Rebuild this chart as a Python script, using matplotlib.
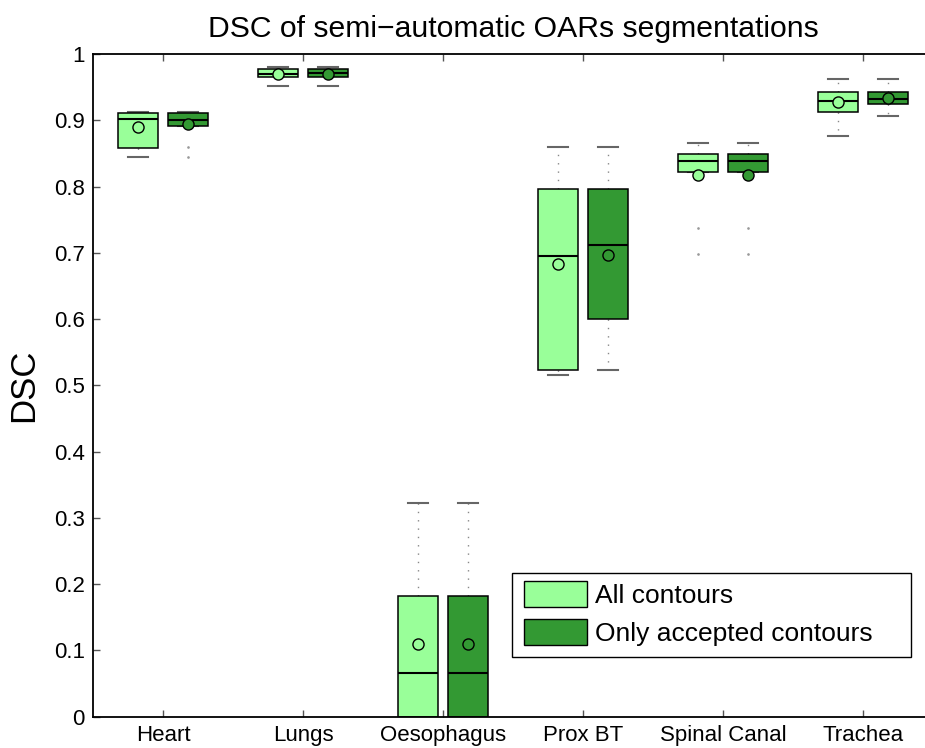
import numpy as np
import matplotlib
matplotlib.use('Agg')
import matplotlib.pyplot as plt
from matplotlib.patches import Patch, Rectangle

plt.rcParams['font.family'] = ['Liberation Sans', 'DejaVu Sans']

categories = ['Heart', 'Lungs', 'Oesophagus', 'Prox BT', 'Spinal Canal', 'Trachea']

# all contours
all_whislo = [0.845, 0.952, 0.0, 0.516, 0.8215, 0.876]
all_q1 = [0.858, 0.965, 0.0, 0.523, 0.8215, 0.912]
all_med = [0.902, 0.970, 0.0655, 0.695, 0.838, 0.929]
all_q3 = [0.911, 0.977, 0.1826, 0.796, 0.849, 0.943]
all_whishi = [0.913, 0.981, 0.3225, 0.860, 0.866, 0.963]
all_mean = [0.890, 0.970, 0.110, 0.683, 0.8175, 0.928]
all_fliers = [[], [], [], [], [0.737, 0.698], []]

# only accepted contours
acc_whislo = [0.891, 0.952, 0.0, 0.523, 0.8215, 0.9064]
acc_q1 = [0.891, 0.965, 0.0, 0.600, 0.8215, 0.924]
acc_med = [0.901, 0.971, 0.0655, 0.712, 0.838, 0.9326]
acc_q3 = [0.911, 0.977, 0.1826, 0.796, 0.849, 0.943]
acc_whishi = [0.913, 0.981, 0.3225, 0.860, 0.866, 0.963]
acc_mean = [0.894, 0.970, 0.110, 0.697, 0.8175, 0.933]
acc_fliers = [[0.859, 0.845], [], [], [], [0.737, 0.698], []]

light = '#99ff99'
dark = '#339933'


def make_stats(whislo, q1, med, q3, whishi, mean, fliers):
    stats = []
    for i in range(len(med)):
        stats.append({'whislo': whislo[i], 'q1': q1[i], 'med': med[i], 'q3': q3[i],
                      'whishi': whishi[i], 'mean': mean[i], 'fliers': fliers[i]})
    return stats


fig = plt.figure(figsize=(9.25, 7.48), dpi=100)
ax = fig.add_axes([93 / 925, 1 - 716.7 / 748, 840 / 925, 662.7 / 748])

pos = np.arange(1, len(categories) + 1)
off = 25 / 140
width = 40 / 140

for stats, color, shift in [(make_stats(all_whislo, all_q1, all_med, all_q3, all_whishi, all_mean, all_fliers), light, -off),
                            (make_stats(acc_whislo, acc_q1, acc_med, acc_q3, acc_whishi, acc_mean, acc_fliers), dark, off)]:
    bp = ax.bxp(stats, positions=pos + shift, widths=width, patch_artist=True,
                showmeans=True, capwidths=width / 2, manage_ticks=False,
                boxprops=dict(facecolor=color, edgecolor='black', linewidth=1.1, zorder=3),
                medianprops=dict(color='black', linewidth=1.5, zorder=4),
                whiskerprops=dict(color='#888888', linewidth=1.0, linestyle=(0, (1, 5)), zorder=2),
                capprops=dict(color='#666666', linewidth=1.5, zorder=2),
                flierprops=dict(marker='.', markersize=1.8, markerfacecolor='#999999',
                                markeredgecolor='#999999', linestyle='none'),
                meanprops=dict(marker='o', markersize=8, markerfacecolor=color,
                               markeredgecolor='black', markeredgewidth=1.0, zorder=5))

ax.set_xlim(0.5, 6.5)
ax.set_ylim(0, 1)
ax.set_xticks(pos)
ax.set_xticklabels(categories)
ax.set_yticks(np.arange(0, 1.01, 0.1))
ax.set_yticklabels(['0', '0.1', '0.2', '0.3', '0.4', '0.5', '0.6', '0.7', '0.8', '0.9', '1'])
ax.tick_params(direction='in', length=5, width=1, color='#555555', labelsize=16,
               top=True, right=True, pad=6)
for sp in ax.spines.values():
    sp.set_linewidth(1.3)
    sp.set_zorder(6)

ax.set_title('DSC of semi\u2212automatic OARs segmentations', fontsize=21.7, pad=12)
ax.set_ylabel('DSC', fontsize=25, labelpad=10)

# legend box, matlab style with extra room on the right
frame = Rectangle((512 / 925, 1 - 657 / 748), 399 / 925, 84 / 748, transform=fig.transFigure,
                  facecolor='white', edgecolor='black', linewidth=1.0, clip_on=False, zorder=10)
ax.add_patch(frame)

handles = [Patch(facecolor=light, edgecolor='black', label='All contours'),
           Patch(facecolor=dark, edgecolor='black', label='Only accepted contours')]
leg = ax.legend(handles=handles, loc='upper left', bbox_to_anchor=(524 / 925, 1 - 581 / 748),
                bbox_transform=fig.transFigure, fontsize=19, frameon=False,
                handlelength=2.4, handleheight=1.15, handletextpad=0.28,
                labelspacing=0.4, borderpad=0, borderaxespad=0)
leg.set_zorder(11)

fig.savefig('out.png', dpi=100)
